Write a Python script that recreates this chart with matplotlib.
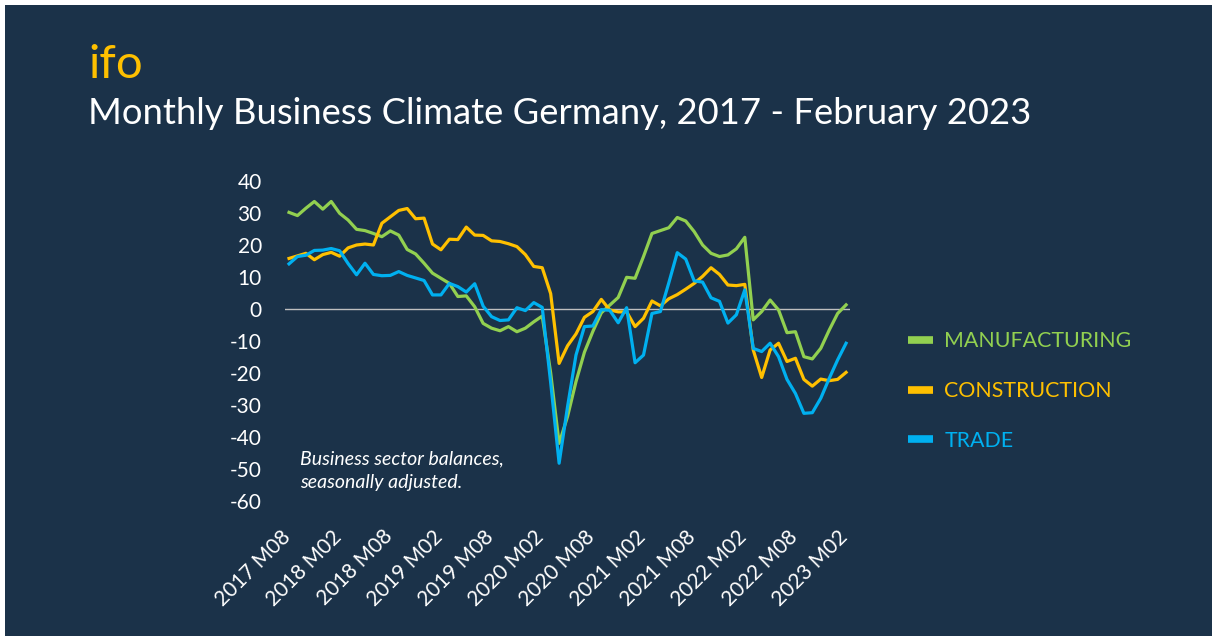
import numpy as np
import matplotlib
matplotlib.use("Agg")
import matplotlib.pyplot as plt
from matplotlib.patches import Rectangle
from matplotlib.transforms import ScaledTranslation

# ── Palette ────────────────────────────────────────────────────────────────
BG     = "#1b3249"
FG     = "#ffffff"
ZERO   = "#bfbfbf"
GREEN  = "#92d050"
YELLOW = "#ffc000"
BLUE   = "#00b0f0"

plt.rcParams.update({
    "font.family": ["Lato", "DejaVu Sans"],
    "axes.unicode_minus": False,
})

# ── Data: ifo business climate balances, 2017 M08 .. 2023 M02 ─────────────
months = list(range(67))
tick_labels = ["2017 M08", "2018 M02", "2018 M08", "2019 M02", "2019 M08",
               "2020 M02", "2020 M08", "2021 M02", "2021 M08", "2022 M02",
               "2022 M08", "2023 M02"]

manufacturing = [30.2, 29.2, 31.5, 33.6, 31.2, 33.6, 29.9, 27.8, 24.9, 24.5,
                 23.6, 22.6, 24.4, 23.1, 18.6, 17.2, 14.3, 11.2, 9.6, 8.0,
                 3.9, 4.1, 0.7, -4.5, -6.0, -6.8, -5.5, -7.1, -6.0, -4.0,
                 -2.2, -20.0, -42.0, -33.6, -22.7, -13.5, -7.0, -1.2, 1.2, 3.6,
                 9.9, 9.6, 16.4, 23.6, 24.5, 25.4, 28.6, 27.5, 24.2, 20.0,
                 17.4, 16.4, 16.9, 18.8, 22.4, -3.4, -0.8, 2.8, -0.3, -7.4,
                 -7.1, -14.9, -15.6, -12.3, -6.6, -1.4, 1.3]
construction = [15.8, 16.6, 17.4, 15.4, 17.0, 17.7, 16.5, 19.1, 20.0, 20.3,
                20.0, 26.8, 28.8, 30.8, 31.4, 28.2, 28.4, 20.3, 18.5, 21.8,
                21.7, 25.6, 23.1, 23.0, 21.3, 21.1, 20.4, 19.5, 17.0, 13.3,
                12.9, 4.8, -17.0, -11.5, -7.8, -2.6, -0.8, 3.0, -0.3, -0.9,
                -0.9, -5.5, -2.9, 2.5, 1.0, 3.2, 4.5, 6.2, 8.0, 10.2,
                12.9, 10.8, 7.5, 7.3, 7.7, -12.8, -21.4, -12.8, -10.7, -16.4,
                -15.4, -22.0, -24.1, -21.9, -22.4, -22.0, -19.8]
trade = [14.1, 16.4, 16.8, 18.3, 18.4, 18.9, 18.2, 14.2, 10.7, 14.3,
         10.8, 10.4, 10.5, 11.7, 10.5, 9.7, 8.9, 4.4, 4.4, 8.0,
         7.0, 5.3, 7.9, 0.9, -2.4, -3.6, -3.4, 0.4, -0.5, 2.0,
         0.5, -23.0, -48.2, -30.5, -14.4, -5.5, -5.3, -0.2, -0.4, -4.3,
         0.4, -16.8, -14.4, -1.4, -0.8, 8.2, 17.6, 15.6, 8.8, 8.4,
         3.5, 2.4, -4.4, -1.8, 6.0, -12.3, -13.3, -10.7, -14.9, -22.0,
         -26.4, -32.6, -32.4, -27.9, -21.7, -15.9, -10.7]

# ── Figure / slide background ──────────────────────────────────────────────
W, H = 1223, 641
fig = plt.figure(figsize=(W / 100, H / 100), dpi=100, facecolor="white")
fig.patches.append(Rectangle((5 / W, 5 / H), 1207 / W, 631 / H,
                             transform=fig.transFigure, facecolor=BG,
                             edgecolor="none", zorder=-10))

fig.text(88 / W, 1 - 78 / H, "ifo", color=YELLOW, fontsize=34,
         va="baseline", ha="left")
fig.text(88 / W, 1 - 124 / H,
         "Monthly Business Climate Germany, 2017 - February 2023",
         color=FG, fontsize=26.2, va="baseline", ha="left")

# ── Chart ──────────────────────────────────────────────────────────────────
ax = fig.add_axes([284.8 / W, 1 - 501 / H, 565.5 / W, 320 / H])
ax.set_facecolor("none")

ax.axhline(0, color=ZERO, linewidth=1.0, zorder=1)
l1, = ax.plot(months, manufacturing, color=GREEN, lw=2.3, label="MANUFACTURING",
              solid_joinstyle="round", zorder=2)
l2, = ax.plot(months, construction, color=YELLOW, lw=2.3, label="CONSTRUCTION",
              solid_joinstyle="round", zorder=3)
l3, = ax.plot(months, trade, color=BLUE, lw=2.3, label="TRADE",
              solid_joinstyle="round", zorder=4)

ax.set_xlim(-0.5, 66.5)
ax.set_ylim(-60, 40)
ax.set_yticks(range(-60, 41, 10))
ax.set_xticks(months[::6])
ax.set_xticklabels(tick_labels, rotation=45, ha="right", va="baseline",
                   rotation_mode="anchor")
for s in ax.spines.values():
    s.set_visible(False)
ax.tick_params(axis="both", length=0, colors=FG, labelsize=15)
ax.tick_params(axis="y", pad=16.5)
ax.tick_params(axis="x", pad=26.5)
shift = ScaledTranslation(0.03, 0, fig.dpi_scale_trans)
for lab in ax.get_xticklabels():
    lab.set_transform(lab.get_transform() + shift)

ax.text(0.027, 0.095, "Business sector balances,\nseasonally adjusted.",
        transform=ax.transAxes, color=FG, fontsize=14, style="italic",
        va="center", ha="left", linespacing=1.5)

leg = ax.legend(handles=[l1, l2, l3], loc="center left",
                bbox_to_anchor=(908 / W, 1 - 391 / H),
                bbox_transform=fig.transFigure, frameon=False,
                fontsize=15.4, labelcolor="linecolor", handlelength=1.15,
                handletextpad=0.55, labelspacing=1.4, borderpad=0,
                borderaxespad=0)
for h in leg.legend_handles:
    h.set_linewidth(5.5)
    h.set_solid_capstyle("butt")

fig.savefig("out.png", dpi=100, facecolor=fig.get_facecolor())
